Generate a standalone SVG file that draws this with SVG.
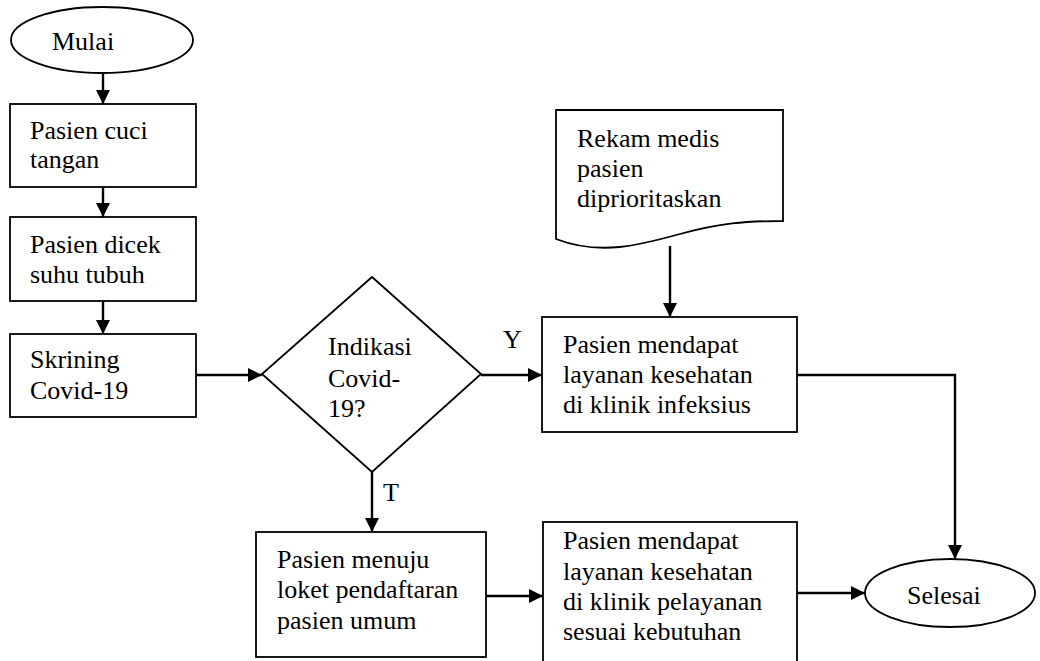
<svg xmlns="http://www.w3.org/2000/svg" width="1040" height="661" viewBox="0 0 1040 661">
<defs>
<marker id="ah" viewBox="0 0 10 10" refX="10" refY="5" markerWidth="15" markerHeight="14" markerUnits="userSpaceOnUse" orient="auto">
<path d="M0,0 L10,5 L0,10 z" fill="#000"/>
</marker>
<style>
.shape{fill:#fff;stroke:#000;stroke-width:1.8}
.lbl{font-family:"Liberation Serif","Times New Roman",serif;font-size:26px;fill:#000}
.conn{fill:none;stroke:#000;stroke-width:2.4}
.conn .a{marker-end:url(#ah)}
</style>
</defs>
<rect width="1040" height="661" fill="#fff"/>
<g id="connectors" class="conn">
<line class="a" x1="103" y1="73" x2="103" y2="104"/>
<line class="a" x1="103" y1="187" x2="103" y2="217"/>
<line class="a" x1="103" y1="301" x2="103" y2="334"/>
<line class="a" x1="196" y1="375" x2="262" y2="375"/>
<line class="a" x1="481" y1="375" x2="542" y2="375"/>
<line class="a" x1="670" y1="246" x2="670" y2="317"/>
<polyline class="a" points="797,375 955,375 955,559"/>
<line class="a" x1="372" y1="472" x2="372" y2="532"/>
<line class="a" x1="486" y1="596" x2="543" y2="596"/>
<line class="a" x1="797" y1="593" x2="865" y2="593"/>
</g>
<g id="mulai">
<ellipse class="shape" cx="102" cy="40" rx="91" ry="33"/>
<text class="lbl" x="52" y="50">Mulai</text>
</g>
<g id="cuci">
<rect class="shape" x="10" y="104" width="186" height="83"/>
<text class="lbl" x="30" y="139">Pasien cuci</text>
<text class="lbl" x="30" y="168">tangan</text>
</g>
<g id="suhu">
<rect class="shape" x="10" y="217" width="186" height="84"/>
<text class="lbl" x="30" y="253">Pasien dicek</text>
<text class="lbl" x="30" y="283">suhu tubuh</text>
</g>
<g id="skrining">
<rect class="shape" x="10" y="334" width="186" height="83"/>
<text class="lbl" x="30" y="368">Skrining</text>
<text class="lbl" x="30" y="399">Covid-19</text>
</g>
<g id="indikasi">
<polygon class="shape" points="372,277 481,374 372,472 262,374"/>
<text class="lbl" x="328" y="355">Indikasi</text>
<text class="lbl" x="328" y="387">Covid-</text>
<text class="lbl" x="328" y="417">19?</text>
</g>
<g id="label-y"><text class="lbl" x="503" y="348">Y</text></g>
<g id="label-t"><text class="lbl" x="383" y="501">T</text></g>
<g id="rekam">
<path class="shape" d="M556,110 L783,110 L783,221 C745,221 720,223 680,234 C640,245 600,256 556,239 Z"/>
<text class="lbl" x="577" y="147">Rekam medis</text>
<text class="lbl" x="577" y="177">pasien</text>
<text class="lbl" x="577" y="207">diprioritaskan</text>
</g>
<g id="infeksius">
<rect class="shape" x="542" y="317" width="255" height="115"/>
<text class="lbl" x="563" y="353">Pasien mendapat</text>
<text class="lbl" x="563" y="383">layanan kesehatan</text>
<text class="lbl" x="563" y="413">di klinik infeksius</text>
</g>
<g id="menuju">
<rect class="shape" x="256" y="532" width="230" height="125"/>
<text class="lbl" x="277" y="568">Pasien menuju</text>
<text class="lbl" x="277" y="598">loket pendaftaran</text>
<text class="lbl" x="277" y="629">pasien umum</text>
</g>
<g id="pelayanan">
<rect class="shape" x="543" y="522" width="254" height="160"/>
<text class="lbl" x="563" y="549">Pasien mendapat</text>
<text class="lbl" x="563" y="580">layanan kesehatan</text>
<text class="lbl" x="563" y="610">di klinik pelayanan</text>
<text class="lbl" x="563" y="640">sesuai kebutuhan</text>
</g>
<g id="selesai">
<ellipse class="shape" cx="950" cy="593" rx="85" ry="34"/>
<text class="lbl" x="907" y="604">Selesai</text>
</g>
</svg>
